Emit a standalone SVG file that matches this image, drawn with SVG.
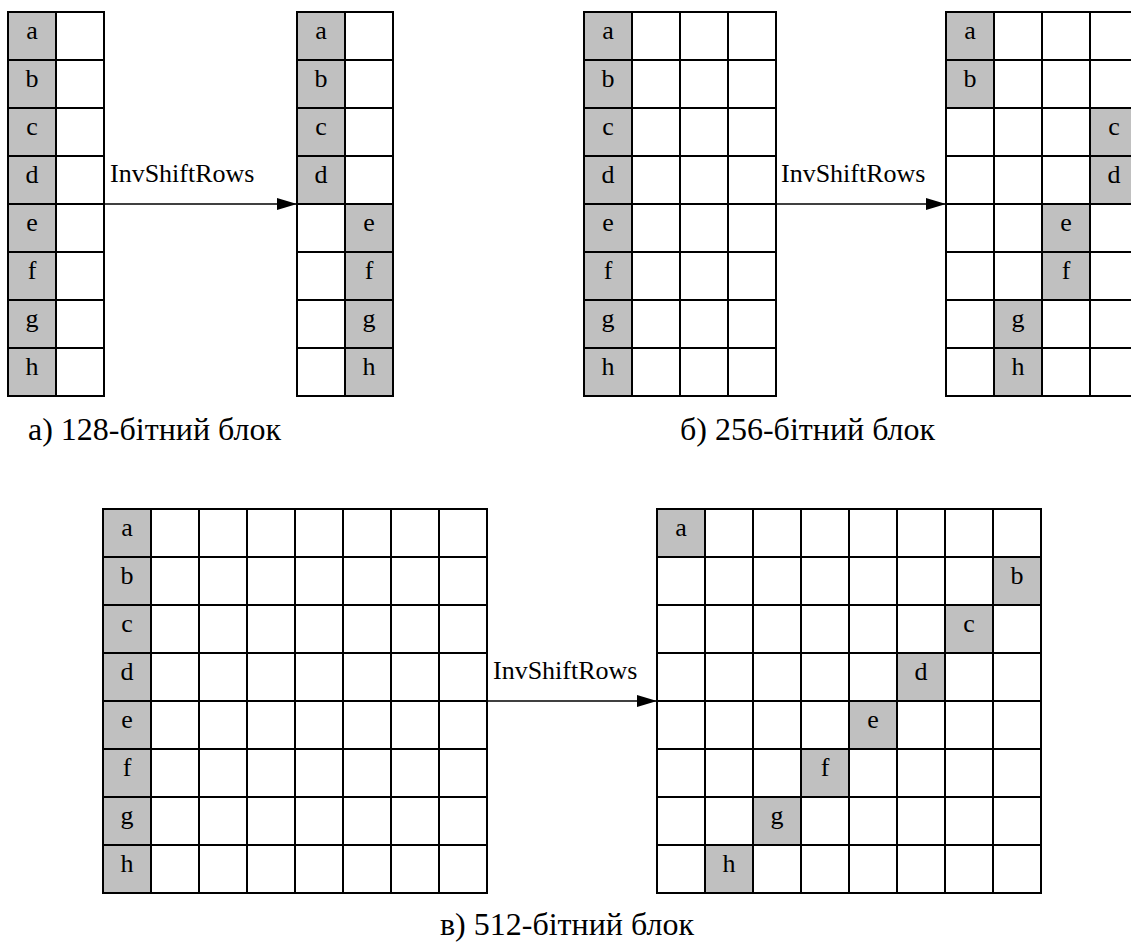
<svg xmlns="http://www.w3.org/2000/svg" width="1131" height="942" viewBox="0 0 1131 942">
<defs>
<style>
.c{fill:#ffffff;stroke:#000;stroke-width:2}
.g{fill:#c0c0c0;stroke:#000;stroke-width:2}
.t{font-family:'Liberation Serif','Times New Roman',serif;font-size:26px;fill:#000;text-anchor:middle}
.lbl{font-family:'Liberation Serif','Times New Roman',serif;font-size:26px;fill:#000}
.cap{font-family:'Liberation Serif','Times New Roman',serif;font-size:32px;fill:#000}
.ln{stroke:#000;stroke-width:2;fill:none}
.ar{stroke:#000;stroke-width:1.5;fill:none}
</style>
<marker id="ah" viewBox="0 0 20 12" refX="20" refY="6" markerWidth="20" markerHeight="12" markerUnits="userSpaceOnUse" orient="auto">
<path d="M0,0 L20,6 L0,12 Z" fill="#000"/>
</marker>
</defs>
<rect width="1131" height="942" fill="#fff"/>

<g id="grid128in">
<rect class="c" x="8" y="12" width="96" height="384"/>
<g class="g"><rect x="8" y="12" width="48" height="48"/><rect x="8" y="60" width="48" height="48"/><rect x="8" y="108" width="48" height="48"/><rect x="8" y="156" width="48" height="48"/><rect x="8" y="204" width="48" height="48"/><rect x="8" y="252" width="48" height="48"/><rect x="8" y="300" width="48" height="48"/><rect x="8" y="348" width="48" height="48"/></g>
<path class="ln" d="M56,12V396M8,60H104M8,108H104M8,156H104M8,204H104M8,252H104M8,300H104M8,348H104"/>
<g class="t"><text x="32" y="39">a</text><text x="32" y="87">b</text><text x="32" y="135">c</text><text x="32" y="183">d</text><text x="32" y="231">e</text><text x="32" y="279">f</text><text x="32" y="327">g</text><text x="32" y="375">h</text></g>
</g>

<g id="grid128out">
<rect class="c" x="297" y="12" width="96" height="384"/>
<g class="g"><rect x="297" y="12" width="48" height="48"/><rect x="297" y="60" width="48" height="48"/><rect x="297" y="108" width="48" height="48"/><rect x="297" y="156" width="48" height="48"/><rect x="345" y="204" width="48" height="48"/><rect x="345" y="252" width="48" height="48"/><rect x="345" y="300" width="48" height="48"/><rect x="345" y="348" width="48" height="48"/></g>
<path class="ln" d="M345,12V396M297,60H393M297,108H393M297,156H393M297,204H393M297,252H393M297,300H393M297,348H393"/>
<g class="t"><text x="321" y="39">a</text><text x="321" y="87">b</text><text x="321" y="135">c</text><text x="321" y="183">d</text><text x="369" y="231">e</text><text x="369" y="279">f</text><text x="369" y="327">g</text><text x="369" y="375">h</text></g>
</g>

<g id="grid256in">
<rect class="c" x="584" y="12" width="192" height="384"/>
<g class="g"><rect x="584" y="12" width="48" height="48"/><rect x="584" y="60" width="48" height="48"/><rect x="584" y="108" width="48" height="48"/><rect x="584" y="156" width="48" height="48"/><rect x="584" y="204" width="48" height="48"/><rect x="584" y="252" width="48" height="48"/><rect x="584" y="300" width="48" height="48"/><rect x="584" y="348" width="48" height="48"/></g>
<path class="ln" d="M632,12V396M680,12V396M728,12V396M584,60H776M584,108H776M584,156H776M584,204H776M584,252H776M584,300H776M584,348H776"/>
<g class="t"><text x="608" y="39">a</text><text x="608" y="87">b</text><text x="608" y="135">c</text><text x="608" y="183">d</text><text x="608" y="231">e</text><text x="608" y="279">f</text><text x="608" y="327">g</text><text x="608" y="375">h</text></g>
</g>

<g id="grid256out">
<rect class="c" x="946" y="12" width="192" height="384"/>
<g class="g"><rect x="946" y="12" width="48" height="48"/><rect x="946" y="60" width="48" height="48"/><rect x="1090" y="108" width="48" height="48"/><rect x="1090" y="156" width="48" height="48"/><rect x="1042" y="204" width="48" height="48"/><rect x="1042" y="252" width="48" height="48"/><rect x="994" y="300" width="48" height="48"/><rect x="994" y="348" width="48" height="48"/></g>
<path class="ln" d="M994,12V396M1042,12V396M1090,12V396M946,60H1138M946,108H1138M946,156H1138M946,204H1138M946,252H1138M946,300H1138M946,348H1138"/>
<g class="t"><text x="970" y="39">a</text><text x="970" y="87">b</text><text x="1114" y="135">c</text><text x="1114" y="183">d</text><text x="1066" y="231">e</text><text x="1066" y="279">f</text><text x="1018" y="327">g</text><text x="1018" y="375">h</text></g>
</g>

<g id="grid512in">
<rect class="c" x="103" y="509" width="384" height="384"/>
<g class="g"><rect x="103" y="509" width="48" height="48"/><rect x="103" y="557" width="48" height="48"/><rect x="103" y="605" width="48" height="48"/><rect x="103" y="653" width="48" height="48"/><rect x="103" y="701" width="48" height="48"/><rect x="103" y="749" width="48" height="48"/><rect x="103" y="797" width="48" height="48"/><rect x="103" y="845" width="48" height="48"/></g>
<path class="ln" d="M151,509V893M199,509V893M247,509V893M295,509V893M343,509V893M391,509V893M439,509V893M103,557H487M103,605H487M103,653H487M103,701H487M103,749H487M103,797H487M103,845H487"/>
<g class="t"><text x="127" y="536">a</text><text x="127" y="584">b</text><text x="127" y="632">c</text><text x="127" y="680">d</text><text x="127" y="728">e</text><text x="127" y="776">f</text><text x="127" y="824">g</text><text x="127" y="872">h</text></g>
</g>

<g id="grid512out">
<rect class="c" x="657" y="509" width="384" height="384"/>
<g class="g"><rect x="657" y="509" width="48" height="48"/><rect x="993" y="557" width="48" height="48"/><rect x="945" y="605" width="48" height="48"/><rect x="897" y="653" width="48" height="48"/><rect x="849" y="701" width="48" height="48"/><rect x="801" y="749" width="48" height="48"/><rect x="753" y="797" width="48" height="48"/><rect x="705" y="845" width="48" height="48"/></g>
<path class="ln" d="M705,509V893M753,509V893M801,509V893M849,509V893M897,509V893M945,509V893M993,509V893M657,557H1041M657,605H1041M657,653H1041M657,701H1041M657,749H1041M657,797H1041M657,845H1041"/>
<g class="t"><text x="681" y="536">a</text><text x="1017" y="584">b</text><text x="969" y="632">c</text><text x="921" y="680">d</text><text x="873" y="728">e</text><text x="825" y="776">f</text><text x="777" y="824">g</text><text x="729" y="872">h</text></g>
</g>

<g id="connectors">
<line class="ar" x1="104" y1="204" x2="297" y2="204" marker-end="url(#ah)"/>
<line class="ar" x1="776" y1="204" x2="946" y2="204" marker-end="url(#ah)"/>
<line class="ar" x1="487" y1="701" x2="657" y2="701" marker-end="url(#ah)"/>
</g>

<g id="labels">
<text class="lbl" x="110" y="182">InvShiftRows</text>
<text class="lbl" x="781" y="182">InvShiftRows</text>
<text class="lbl" x="493" y="679">InvShiftRows</text>
<text class="cap" x="28" y="440">а) 128-бітний блок</text>
<text class="cap" x="680" y="440">б) 256-бітний блок</text>
<text class="cap" x="440" y="935">в) 512-бітний блок</text>
</g>
</svg>
